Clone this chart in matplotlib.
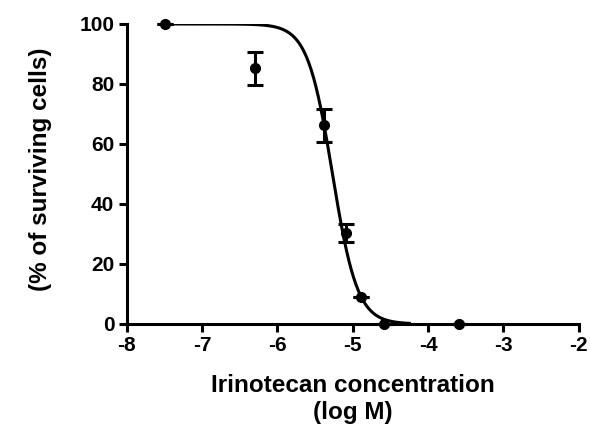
import numpy as np
import matplotlib.pyplot as plt

plt.rcParams['font.family'] = ['Liberation Sans', 'DejaVu Sans']
plt.rcParams['font.weight'] = 'bold'
plt.rcParams['axes.unicode_minus'] = False

# log concentration (M) vs mean survival and SEM
log_conc = [-7.5, -6.3, -5.38, -5.09, -4.89, -4.59, -3.59]
survival = [100, 85.3, 66.3, 30.3, 9.0, 0.0, 0.0]
err = [0, 5.5, 5.5, 3.0, 0, 0, 0]

# four-parameter logistic fit
top, bottom, log_ic50, hill = 100.0, 0.0, -5.27, 2.63

fig = plt.figure(figsize=(5.9, 4.28), dpi=100)
ax = fig.add_axes([0.215, 0.243, 0.766, 0.701])

xc = np.linspace(-7.5, -4.25, 300)
yc = bottom + (top - bottom) / (1 + 10 ** ((xc - log_ic50) * hill))
ax.plot(xc, yc, color='black', lw=2.2, zorder=3)

ax.errorbar(log_conc, survival, yerr=err, fmt='o', color='black', ms=7,
            capsize=5.5, capthick=2.2, elinewidth=2.2, zorder=4, clip_on=False)

ax.set_xlim(-8, -2)
ax.set_ylim(0, 100)
ax.set_xticks(range(-8, -1))
ax.set_yticks(range(0, 101, 20))
for s in ['top', 'right']:
    ax.spines[s].set_visible(False)
for s in ['left', 'bottom']:
    ax.spines[s].set_linewidth(2.2)
ax.tick_params(width=2.2, length=6, labelsize=15, pad=3)
for lab in ax.get_xticklabels() + ax.get_yticklabels():
    lab.set_fontweight('bold')

ax.set_xlabel('Irinotecan concentration\n(log M)', fontsize=17.5, fontweight='bold',
              linespacing=1.25, labelpad=13)
ax.set_ylabel('(% of surviving cells)', fontsize=17.5, fontweight='bold')
ax.yaxis.set_label_coords(-0.165, 0.515)

fig.savefig('out.png', dpi=100)
